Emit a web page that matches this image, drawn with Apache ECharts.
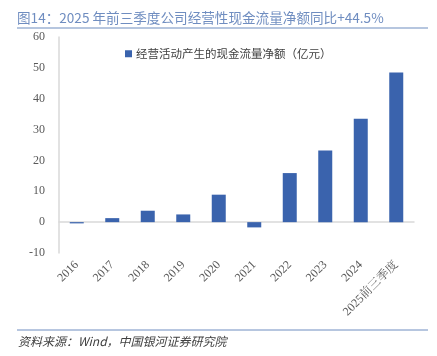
<!DOCTYPE html>
<html><head><meta charset="utf-8">
<script src="https://cdn.jsdelivr.net/npm/echarts@6/dist/echarts.min.js"></script>
<style>html,body{margin:0;padding:0;background:#fff}#c{width:437px;height:356px}</style>
</head><body><div id="c"></div>
<script>
var categories = ['2016','2017','2018','2019','2020','2021','2022','2023','2024','2025前三季度'];
var cashFlow = [-0.4, 1.3, 3.7, 2.5, 8.9, -1.7, 15.9, 23.2, 33.5, 48.5];
var seriesName = '经营活动产生的现金流量净额（亿元）';
var titleText = '图14：2025 年前三季度公司经营性现金流量净额同比+44.5%';
var sourceText = '资料来源：Wind，中国银河证券研究院';

var chart = echarts.init(document.getElementById('c'), null, {renderer:'canvas'});
var serif = '"Liberation Serif","Noto Serif CJK SC","Noto Sans CJK SC",serif';
chart.setOption({
  animation:false,
  backgroundColor:'#fff',
  title:{text:titleText, left:12, top:6, textStyle:{fontFamily:'"Noto Sans CJK SC",sans-serif', fontSize:13.6, fontWeight:'normal', color:'#6f8dc0'}},
  graphic:[
    {type:'line', shape:{x1:17,y1:28,x2:428,y2:28}, style:{stroke:'#6f8dc0', lineWidth:1.2}},
    {type:'line', shape:{x1:17,y1:330,x2:428,y2:330}, style:{stroke:'#6f8dc0', lineWidth:1}},
    {type:'text', left:18, top:335, style:{text:sourceText, fontFamily:'"Noto Sans CJK SC",sans-serif', fontStyle:'italic', fontSize:12, fill:'#404040'}}
  ],
  legend:{top:43, left:120, itemWidth:7, itemHeight:7, itemGap:4, icon:'rect',
    textStyle:{fontFamily:'"Noto Sans CJK SC",sans-serif', fontSize:11.5, color:'#404040', padding:[0,0,0,-1]},
    data:[seriesName]},
  grid:{left:59, right:23, top:37, bottom:103, containLabel:false},
  xAxis:{type:'category', data:categories,
    axisLine:{onZero:true, lineStyle:{color:'#d9d9d9', width:1.5}},
    axisTick:{show:false},
    axisLabel:{rotate:45, interval:0, margin:10, fontFamily:serif, fontSize:12, color:'#595959'}},
  yAxis:{type:'value', min:-10, max:60, interval:10,
    axisLine:{show:true, lineStyle:{color:'#d9d9d9', width:1.5}},
    axisTick:{show:false}, splitLine:{show:false},
    axisLabel:{margin:14, fontFamily:serif, fontSize:12, color:'#595959'}},
  series:[{name:seriesName, type:'bar', data:cashFlow, barWidth:14,
    itemStyle:{color:'#3a63ad'}}]
});
</script></body></html>
